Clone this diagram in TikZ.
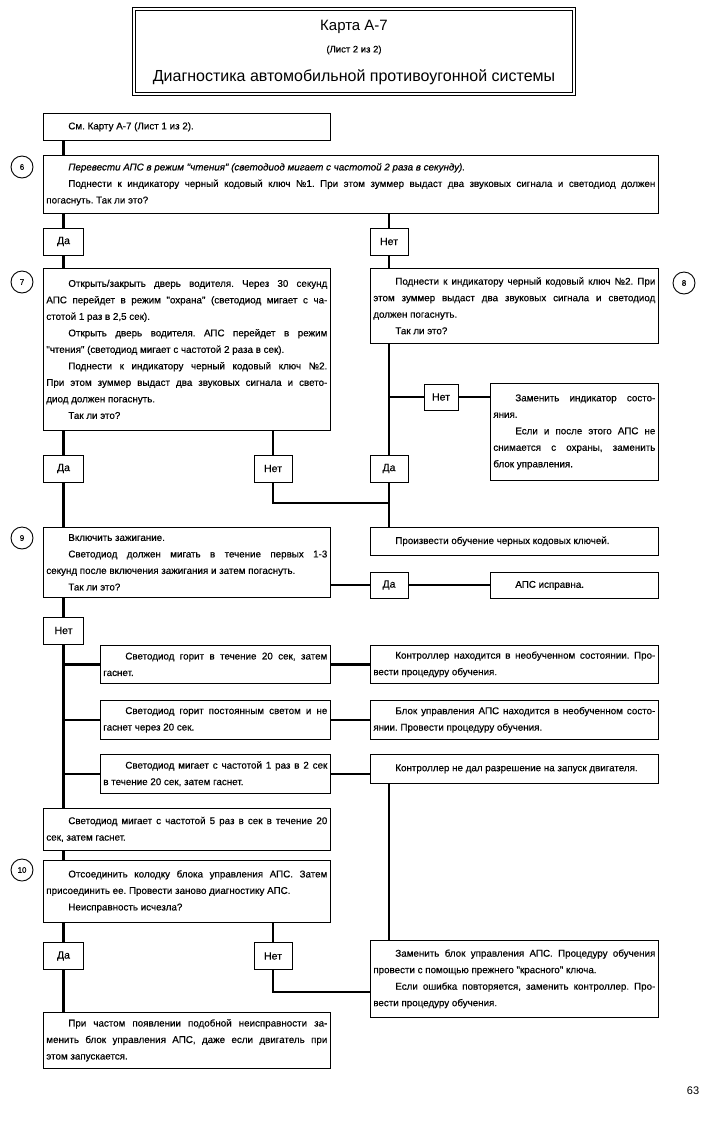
\documentclass[tikz,border=0pt]{standalone}
\usepackage{fontspec}
\setmainfont{Liberation Sans}
\newfontfamily\boxfam{Liberation Sans}[FakeBold=0.5]
\newcommand{\pind}{\hspace*{22pt}}
\newcommand{\boxfont}{\boxfam\fontsize{9.8}{16.5}\selectfont}
\tolerance=9999
\hbadness=10000
\hyphenpenalty=10000
\frenchspacing
\begin{document}
\begin{tikzpicture}[x=1pt, y=-1pt,
  box/.style 2 args={draw=\apsBoxColor, line width=\apsBoxLineWidth, anchor=north west,
    inner xsep=3pt, inner ysep=2pt, text width=#1, minimum height=#2,
    align=justify, font=\boxfont},
  ans/.style={draw=\apsBoxColor, line width=\apsBoxLineWidth, minimum width=40pt,
    minimum height=27pt, inner sep=0pt, font=\boxfam\fontsize{10.5}{12}\selectfont},
  stepmark/.style={draw=\apsBoxColor, circle, line width=0.9pt, minimum size=22pt,
    inner sep=0pt, font=\boxfam\fontsize{8}{9}\selectfont},
  conn/.style={draw=\apsLineColor, line width=\apsConnWidth}]
% Flow chart of card A-7, sheet 2
\providecommand{\apsBoxColor}{black}
\providecommand{\apsLineColor}{black}
\providecommand{\apsBoxLineWidth}{0.7pt}
\providecommand{\apsConnWidth}{2.6pt}
\useasboundingbox (0,0) rectangle (705,1128);
% Title frame
\node[draw=\apsBoxColor, double, double distance=2.4pt, line width=0.7pt,
  minimum width=440pt, minimum height=85pt] (frame) at (354,51.5) {};
\node[font=\fontsize{15}{18}\selectfont] (ttlA) at (354,27) {Карта А-7};
\node[font=\boxfam\fontsize{9.5}{11}\selectfont] (ttlB) at (354,50) {(Лист 2 из 2)};
\node[font=\fontsize{16}{19}\selectfont] (ttlC) at (354,77) {Диагностика автомобильной противоугонной системы};
% Step marks
\node[stepmark] (c6) at (22,167) {6};
\node[stepmark] (c7) at (22,282) {7};
\node[stepmark] (c8) at (684,283) {8};
\node[stepmark] (c9) at (22,538) {9};
\node[stepmark] (c10) at (22,870) {10};
% Boxes, left column
\node[box={281pt}{27pt}] (ref) at (43,113) {\pind См. Карту А-7 (Лист 1 из 2).};
\node[box={609pt}{58pt}] (q6) at (43,155) {\pind\textit{Перевести АПС в режим "чтения" (светодиод мигает с частотой 2 раза в секунду).}\par
  \pind Поднести к индикатору черный кодовый ключ №1. При этом зуммер выдаст два звуковых сигнала и светодиод должен\linebreak погаснуть. Так ли это?};
\node[box={281pt}{162pt}] (q7) at (43,268) {\pind Открыть/закрыть дверь водителя. Через 30 секунд\linebreak АПС перейдет в режим "охрана" (светодиод мигает с ча-\linebreak стотой 1 раз в 2,5 сек).\par
  \pind Открыть дверь водителя. АПС перейдет в режим\linebreak "чтения" (светодиод мигает с частотой 2 раза в сек).\par
  \pind Поднести к индикатору черный кодовый ключ №2.\linebreak При этом зуммер выдаст два звуковых сигнала и свето-\linebreak диод должен погаснуть.\par
  \pind Так ли это?};
\node[box={281pt}{70pt}] (q9) at (43,527) {\pind Включить зажигание.\par
  \pind Светодиод должен мигать в течение первых 1-3\linebreak секунд после включения зажигания и затем погаснуть.\par
  \pind Так ли это?};
\node[box={224pt}{38pt}] (s1) at (100,645) {\pind Светодиод горит в течение 20 сек, затем\linebreak гаснет.};
\node[box={224pt}{39pt}] (s2) at (100,700) {\pind Светодиод горит постоянным светом и не\linebreak гаснет через 20 сек.};
\node[box={224pt}{39pt}] (s3) at (100,754) {\pind Светодиод мигает с частотой 1 раз в 2 сек\linebreak в течение 20 сек, затем гаснет.};
\node[box={281pt}{42pt}] (q5) at (43,808) {\pind Светодиод мигает с частотой 5 раз в сек в течение 20\linebreak сек, затем гаснет.};
\node[box={281pt}{62pt}] (q10) at (43,860) {\pind Отсоединить колодку блока управления АПС. Затем\linebreak присоединить ее. Провести заново диагностику АПС.\par
  \pind Неисправность исчезла?};
\node[box={281pt}{56pt}] (fin) at (43,1012) {\pind При частом появлении подобной неисправности за-\linebreak менить блок управления АПС, даже если двигатель при\linebreak этом запускается.};
% Boxes, right column
\node[box={282pt}{75pt}] (q8) at (370,268) {\pind Поднести к индикатору черный кодовый ключ №2. При\linebreak этом зуммер выдаст два звуковых сигнала и светодиод\linebreak должен погаснуть.\par
  \pind Так ли это?};
\node[box={162pt}{97pt}] (repl) at (490,383) {\pind Заменить индикатор состо-\linebreak яния.\par
  \pind Если и после этого АПС не\linebreak снимается с охраны, заменить\linebreak блок управления.};
\node[box={282pt}{28pt}] (train) at (370,527) {\pind Произвести обучение черных кодовых ключей.};
\node[box={162pt}{26pt}] (ok) at (490,572) {\pind АПС исправна.};
\node[box={282pt}{38pt}] (r1) at (370,645) {\pind Контроллер находится в необученном состоянии. Про-\linebreak вести процедуру обучения.};
\node[box={282pt}{39pt}] (r2) at (370,700) {\pind Блок управления АПС находится в необученном состо-\linebreak янии. Провести процедуру обучения.};
\node[box={282pt}{29pt}] (r3) at (370,754) {\pind Контроллер не дал разрешение на запуск двигателя.};
\node[box={282pt}{77pt}] (rb) at (370,940) {\pind Заменить блок управления АПС. Процедуру обучения\linebreak провести с помощью прежнего "красного" ключа.\par
  \pind Если ошибка повторяется, заменить контроллер. Про-\linebreak вести процедуру обучения.};
% Answers
\node[ans] (yes6) at (63.5,241.5) {Да};
\node[ans, minimum width=38pt] (no6) at (389,241.5) {Нет};
\node[ans, minimum width=34pt, minimum height=26pt] (no8) at (441,397) {Нет};
\node[ans] (yes7) at (63.5,468.5) {Да};
\node[ans, minimum width=38pt] (no7) at (273,468.5) {Нет};
\node[ans, minimum width=38pt] (yes8) at (389,468.5) {Да};
\node[ans, minimum width=38pt, minimum height=26pt] (yes9) at (389,585) {Да};
\node[ans] (no9) at (63.5,630.5) {Нет};
\node[ans] (yes10) at (63.5,956) {Да};
\node[ans, minimum width=38pt] (no10) at (273,956) {Нет};
\node[font=\fontsize{11}{13}\selectfont] (pagenum) at (693,1091) {63};
% Joins
\coordinate (join7) at (389,503);
\coordinate (join10) at (370,992);
% Connectors
\draw[conn] (ref.south -| yes6) -- (q6.north -| yes6);
\draw[conn] (q6.south -| yes6) -- (yes6.north);
\draw[conn] (yes6.south) -- (q7.north -| yes6);
\draw[conn] (q6.south -| no6) -- (no6.north);
\draw[conn] (no6.south) -- (q8.north -| no6);
\draw[conn] (q8.south -| yes8) -- (yes8.north);
\draw[conn] (no8.west -| yes8) -- (no8.west);
\draw[conn] (no8.east) -- (repl.west |- no8);
\draw[conn] (yes8.south) -- (train.north -| yes8);
\draw[conn] (q7.south -| yes7) -- (yes7.north);
\draw[conn] (yes7.south) -- (q9.north -| yes7);
\draw[conn] (q7.south -| no7) -- (no7.north);
\draw[conn] (no7.south) |- (join7);
\draw[conn] (q9.east |- yes9) -- (yes9.west);
\draw[conn] (yes9.east) -- (ok.west |- yes9);
\draw[conn] (q9.south -| no9) -- (no9.north);
\draw[conn] (no9.south) -- (q5.north -| no9);
\draw[conn] (s1.west -| no9) -- (s1.west);
\draw[conn] (s2.west -| no9) -- (s2.west);
\draw[conn] (s3.west -| no9) -- (s3.west);
\draw[conn] (s1.east) -- (r1.west |- s1.east);
\draw[conn] (s2.east) -- (r2.west |- s2.east);
\draw[conn] (s3.east) -- (r3.west |- s3.east);
\draw[conn] (r3.south -| no6) -- (rb.north -| no6);
\draw[conn] (q5.south -| no9) -- (q10.north -| no9);
\draw[conn] (q10.south -| yes10) -- (yes10.north);
\draw[conn] (yes10.south) -- (fin.north -| yes10);
\draw[conn] (q10.south -| no10) -- (no10.north);
\draw[conn] (no10.south) |- (join10);
\end{tikzpicture}
\end{document}
